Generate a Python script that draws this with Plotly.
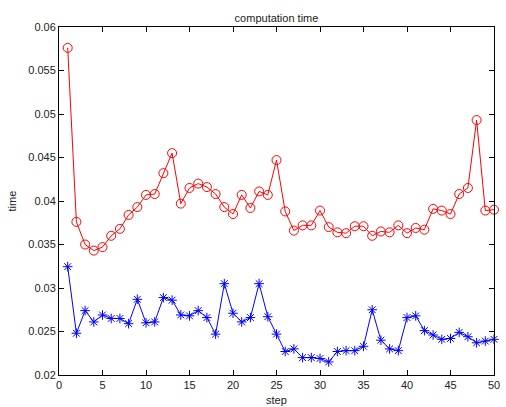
import plotly.graph_objects as go

steps = list(range(1, 51))
red_time = [0.0576, 0.0376, 0.0350, 0.0343, 0.0347, 0.0360, 0.0368, 0.0384, 0.0393, 0.0407,
            0.0408, 0.0432, 0.0455, 0.0397, 0.0415, 0.0420, 0.0416, 0.0408, 0.0393, 0.0385,
            0.0407, 0.0392, 0.0411, 0.0407, 0.0447, 0.0388, 0.0366, 0.0372, 0.0372, 0.0389,
            0.0370, 0.0364, 0.0363, 0.0371, 0.0371, 0.0360, 0.0365, 0.0364, 0.0372, 0.0363,
            0.0369, 0.0367, 0.0391, 0.0389, 0.0385, 0.0408, 0.0415, 0.0493, 0.0389, 0.0390]
blue_time = [0.03245, 0.0248, 0.0274, 0.0261, 0.0269, 0.0265, 0.0265, 0.0259, 0.0287, 0.0260,
             0.0261, 0.0289, 0.0286, 0.0269, 0.0268, 0.0274, 0.0266, 0.0247, 0.0305, 0.0271,
             0.0261, 0.0266, 0.0305, 0.0267, 0.0247, 0.0227, 0.0230, 0.0220, 0.0220, 0.0219,
             0.0215, 0.0227, 0.0228, 0.0228, 0.0233, 0.0275, 0.0240, 0.0230, 0.0228, 0.0266,
             0.0268, 0.0251, 0.0246, 0.0241, 0.0242, 0.0249, 0.0244, 0.0237, 0.0239, 0.0241]
x_ticks = [0, 5, 10, 15, 20, 25, 30, 35, 40, 45, 50]
y_ticks = [0.02, 0.025, 0.03, 0.035, 0.04, 0.045, 0.05, 0.055, 0.06]
y_tick_text = ["0.02", "0.025", "0.03", "0.035", "0.04", "0.045", "0.05", "0.055", "0.06"]

font = "Liberation Sans, Arial, Helvetica, sans-serif"

fig = go.Figure()
fig.add_trace(go.Scatter(x=steps, y=red_time, mode="lines+markers",
                         line=dict(color="#ff0000", width=1),
                         marker=dict(symbol="circle-open", size=9, color="#ff0000", line=dict(width=1)),
                         showlegend=False, cliponaxis=False))
fig.add_trace(go.Scatter(x=steps, y=blue_time, mode="lines+markers",
                         line=dict(color="#0000ff", width=1),
                         marker=dict(symbol="asterisk-open", size=8, color="#0000ff", line=dict(width=1, color="#0000ff")),
                         showlegend=False, cliponaxis=False))

axis_common = dict(showline=True, linecolor="black", linewidth=1, mirror="ticks",
                   ticks="inside", ticklen=5, tickcolor="black", showgrid=False, zeroline=False,
                   ticklabeloverflow="allow",
                   tickfont=dict(family=font, size=11, color="#222"))
fig.update_xaxes(range=[0, 50], tickvals=x_ticks, **axis_common)
fig.update_yaxes(range=[0.02, 0.06], tickvals=y_ticks, ticktext=y_tick_text, **axis_common)

fig.update_layout(
    width=506, height=407,
    margin=dict(l=59, r=6, t=27, b=32),
    paper_bgcolor="white", plot_bgcolor="white",
    font=dict(family=font, size=11, color="#222"),
    title=dict(text="computation time", x=0.5, xref="paper", y=1 - 18 / 407, yref="container",
               xanchor="center", yanchor="middle", font=dict(family=font, size=11, color="#222")),
    annotations=[
        dict(text="step", x=0.5, xref="paper", y=-0.072, yref="paper", showarrow=False,
             xanchor="center", yanchor="middle", font=dict(family=font, size=11, color="#222")),
        dict(text="time", x=-0.107, xref="paper", y=0.5, yref="paper", showarrow=False,
             textangle=-90, xanchor="center", yanchor="middle", font=dict(family=font, size=11, color="#222")),
    ],
)

fig.write_html("out.html", config={"displayModeBar": False},
               post_script="document.body.style.margin='0';")
